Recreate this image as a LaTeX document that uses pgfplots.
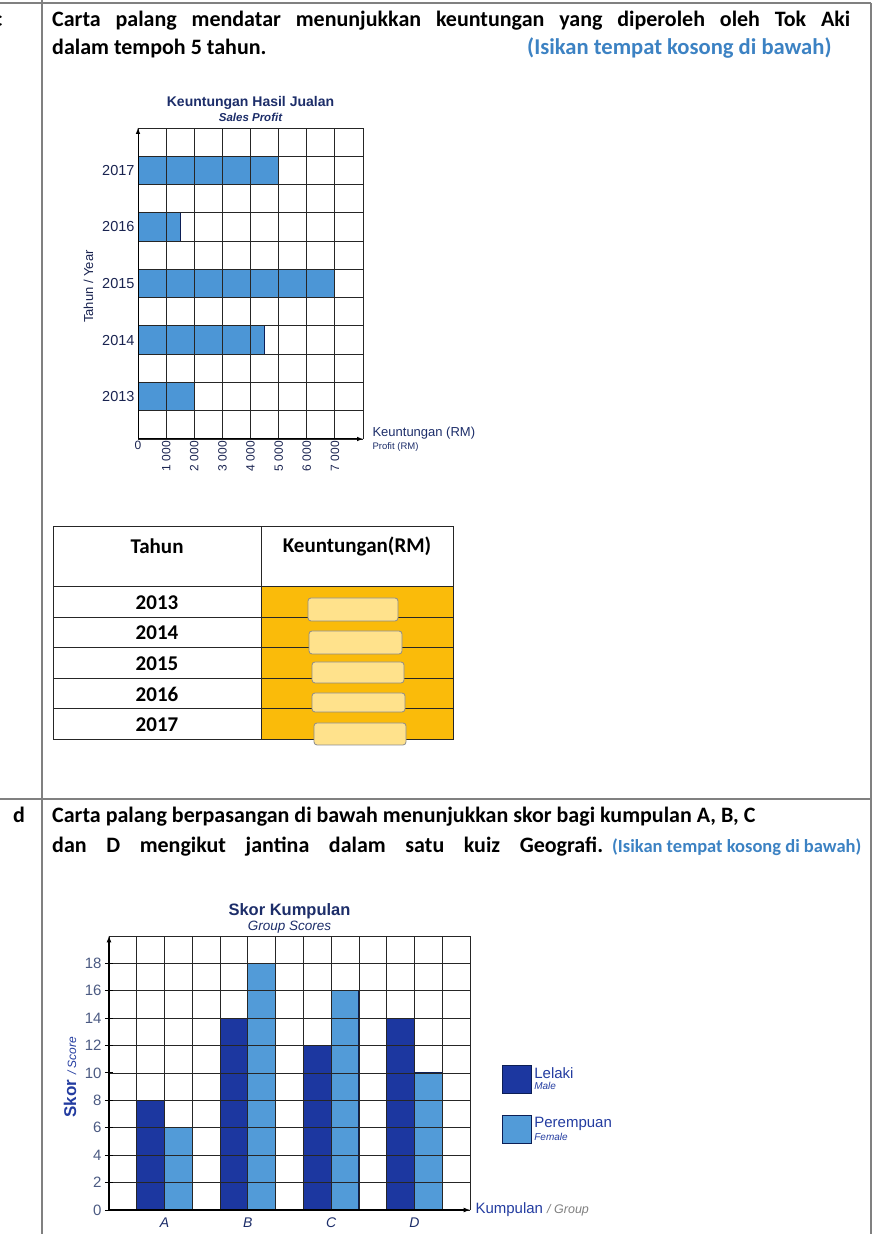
\documentclass[border=0pt]{standalone}
\usepackage{fontspec}
\setmainfont{Carlito}
\newfontfamily\arial{Liberation Sans}
\usepackage{pgfplots}
\pgfplotsset{compat=1.18}
\pgfplotsset{sqlegend/.style={legend image code/.code={\draw[##1] (0pt,-14pt) rectangle (29pt,14pt);}}}
\definecolor{navy}{RGB}{28,45,105}
\definecolor{darknavy}{RGB}{25,35,80}
\definecolor{barA}{RGB}{76,150,214}
\definecolor{male}{RGB}{28,55,160}
\definecolor{female}{RGB}{82,155,216}
\definecolor{bardraw}{RGB}{12,30,85}
\definecolor{bluetxt}{RGB}{60,130,195}
\definecolor{gold}{RGB}{250,187,10}
\definecolor{pale}{RGB}{255,226,140}
\definecolor{border}{RGB}{128,128,128}
\definecolor{ticktxt}{RGB}{75,90,130}
\definecolor{lblue}{RGB}{35,60,160}
\begin{document}
\begin{tikzpicture}[x=1pt,y=1pt]
% frame
\draw[border, line width=1.5pt] (0,1231) -- (871,1231);
\draw[border, line width=1.5pt] (42,1234) -- (42,0);
\draw[border, line width=1.5pt] (871,1231) -- (871,0);
\draw[border, line width=1.5pt] (0,435) -- (871,435);
% section text
\begin{scope}[every node/.style={anchor=base west, inner sep=0pt, font=\fontsize{22}{26}\selectfont\bfseries}]
\node at (-7,1207) {c};
\node at (52,1207) {\makebox[798pt][s]{Carta palang mendatar menunjukkan keuntungan yang diperoleh oleh Tok Aki}};
\node at (52,1179) {dalam tempoh 5 tahun.};
\node[text=bluetxt, font=\fontsize{22.6}{26}\selectfont\bfseries] at (527,1179) {(Isikan tempat kosong di bawah)};
\node at (13,411) {d};
\node at (52,411) {Carta palang berpasangan di bawah menunjukkan skor bagi kumpulan A, B, C};
\node at (52,381) {\makebox[551pt][s]{dan D mengikut jantina dalam satu kuiz Geografi.}};
\node[text=bluetxt, font=\fontsize{18.5}{22}\selectfont\bfseries] at (612,381) {(Isikan tempat kosong di bawah)};
\end{scope}
% table
\fill[gold] (261,494) rectangle (453,647);
\draw[black!85, line width=1pt] (53,494) rectangle (453,707);
\draw[black!85, line width=1pt] (261,494) -- (261,707);
\foreach \yy in {647,616,586,555,525} {\draw[black!85, line width=1pt] (53,\yy) -- (453,\yy);}
\begin{scope}[every node/.style={inner sep=0pt, font=\fontsize{21}{24}\selectfont\bfseries}]
\node at (157,688) {Tahun};
\node at (357,688) {Keuntungan(RM)};
\node at (157,631.5) {2013};
\node at (157,601) {2014};
\node at (157,570.5) {2015};
\node at (157,540) {2016};
\node at (157,509.5) {2017};
\end{scope}
\begin{scope}[every path/.style={fill=pale, draw=black!45, line width=0.8pt, rounded corners=3pt}]
\path (308,613) rectangle (398,636);
\path (309,580) rectangle (402,603);
\path (312,551) rectangle (404,572);
\path (312,522) rectangle (405,541);
\path (314,489) rectangle (406,511);
\end{scope}
% chart 1
\begin{axis}[
 at={(138pt,795pt)}, anchor=south west,
 scale only axis, width=225pt, height=311pt,
 xmin=0, xmax=8000, ymin=0, ymax=11,
 axis lines=left,
 axis line style={line width=1pt, -latex, black},
 axis on top,
 scaled x ticks=false,
 xtick={0,1000,2000,3000,4000,5000,6000,7000},
 xticklabels={0,\rotatebox{90}{1 000},\rotatebox{90}{2 000},\rotatebox{90}{3 000},\rotatebox{90}{4 000},\rotatebox{90}{5 000},\rotatebox{90}{6 000},\rotatebox{90}{7 000}},
 xticklabel style={font=\arial\fontsize{12}{13}\selectfont, text=darknavy, anchor=north, inner sep=2pt},
 ytick={1.5,3.5,5.5,7.5,9.5},
 yticklabels={2013,2014,2015,2016,2017},
 yticklabel style={font=\arial\fontsize{14.5}{16}\selectfont, text=darknavy},
 major tick length=0pt, minor tick length=0pt,
 minor xtick={0,1000,...,8000}, minor ytick={0,1,...,11},
 xminorgrids, yminorgrids,
 minor grid style={black!85, line width=0.8pt},
 title={\textbf{Keuntungan Hasil Jualan}\\[-1pt]{\fontsize{11.5}{13}\selectfont\bfseries\itshape Sales Profit}},
 title style={font=\arial\fontsize{14}{16}\selectfont, text=navy, align=center, yshift=-3pt},
 ylabel={Tahun / Year},
 ylabel style={font=\arial\fontsize{13}{14}\selectfont, text=darknavy, at={(axis description cs:-0.22,0.49)}, anchor=center},
 xlabel={\shortstack[l]{Keuntungan (RM)\\{\fontsize{9.5}{10}\selectfont Profit (RM)}}},
 xlabel style={at={(axis description cs:1,0)}, anchor=west, xshift=6pt, font=\arial\fontsize{13}{14}\selectfont, text=navy},
]
\addplot[xbar, bar shift=0pt, bar width=1, fill=barA, draw=bardraw, line width=1pt]
 coordinates {(2000,1.5) (4500,3.5) (7000,5.5) (1500,7.5) (5000,9.5)};
\end{axis}
% chart 2
\begin{axis}[
 at={(109pt,24pt)}, anchor=south west,
 scale only axis, width=361pt, height=274pt,
 xmin=0, xmax=13, ymin=0, ymax=20,
 axis lines=left,
 axis line style={line width=1.2pt, -latex, black},
 axis on top,
 xtick={2,5,8,11}, xticklabels={A,B,C,D},
 xticklabel style={font=\arial\itshape\fontsize{14}{15}\selectfont, text=navy},
 ytick={0,2,...,18},
 yticklabel style={font=\arial\fontsize{15}{16}\selectfont, text=ticktxt},
 /pgf/number format/assume math mode=true,
 minor xtick={0,1,...,13}, minor ytick={0,2,...,20},
 xminorgrids, yminorgrids,
 minor grid style={black!85, line width=0.8pt},
 x tick style={draw=none}, y tick style={line width=1pt, black},
 major tick length=8pt, tick align=center, minor tick length=0pt,
 title={\textbf{Skor Kumpulan}\\[-3pt]{\fontsize{13.5}{15}\selectfont\itshape Group Scores}},
 title style={font=\arial\fontsize{16.5}{18}\selectfont, text=navy, align=center, yshift=-7pt},
 ylabel={\textbf{Skor} {\fontsize{12}{13}\selectfont\itshape / Score}},
 ylabel style={at={(axis description cs:-0.108,0.485)}, anchor=center, font=\arial\fontsize{17}{18}\selectfont, text=lblue},
 xlabel={Kumpulan {\color{gray}\fontsize{12.5}{13}\selectfont\itshape / Group}},
 xlabel style={at={(axis description cs:1,0)}, anchor=west, xshift=2pt, font=\arial\fontsize{15}{16}\selectfont, text=lblue},
 legend style={at={(axis description cs:1.089,0.53)}, anchor=north west, draw=none, fill=none, row sep=21pt, font=\arial\fontsize{15}{16}\selectfont, text=lblue, inner sep=0pt},
 legend cell align=left,
]
\addplot[ybar, bar shift=0pt, bar width=1, fill=male, draw=bardraw, line width=1pt, sqlegend]
 coordinates {(1.5,8) (4.5,14) (7.5,12) (10.5,14)};
\addlegendentry{\shortstack[l]{Lelaki\\{\fontsize{10}{11}\selectfont\itshape Male}}}
\addplot[ybar, bar shift=0pt, bar width=1, fill=female, draw=bardraw, line width=1pt, sqlegend]
 coordinates {(2.5,6) (5.5,18) (8.5,16) (11.5,10)};
\addlegendentry{\shortstack[l]{Perempuan\\{\fontsize{10}{11}\selectfont\itshape Female}}}
\end{axis}
\pgfresetboundingbox
\path[use as bounding box] (0,0) rectangle (877,1234);
\end{tikzpicture}
\end{document}
